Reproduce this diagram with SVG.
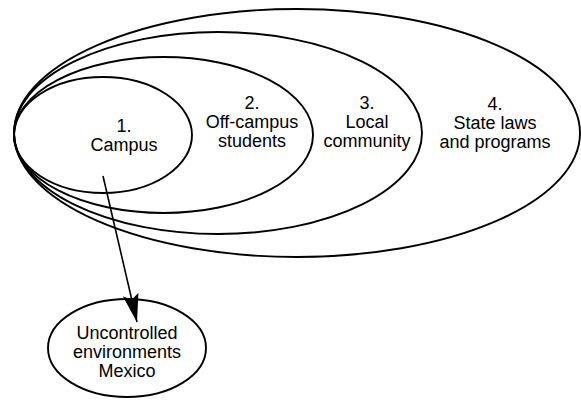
<svg xmlns="http://www.w3.org/2000/svg" width="581" height="400" viewBox="0 0 581 400">
<style>
.ring{fill:none;stroke:#000;stroke-width:1.9}
.lbl{font-family:"Liberation Sans",Arial,sans-serif;font-size:18px;fill:#000;text-anchor:middle}
.conn{stroke:#000;stroke-width:1.6;fill:none}
</style>
<defs>
<marker id="ah" markerUnits="userSpaceOnUse" viewBox="0 -8 28 16" refX="28" refY="0" markerWidth="28" markerHeight="16" orient="auto">
<path d="M0,-8 L28,0 L0,8 L5,0 z" fill="#000"/>
</marker>
</defs>
<rect width="581" height="400" fill="#fff"/>
<g id="state">
<ellipse class="ring" cx="297" cy="133" rx="283" ry="124"/>
<text class="lbl" x="495" y="110">4.</text>
<text class="lbl" x="495" y="129">State laws</text>
<text class="lbl" x="495" y="148">and programs</text>
</g>
<g id="local">
<ellipse class="ring" cx="218" cy="133" rx="204" ry="101"/>
<text class="lbl" x="367" y="109">3.</text>
<text class="lbl" x="367" y="128">Local</text>
<text class="lbl" x="367" y="147">community</text>
</g>
<g id="offcampus">
<ellipse class="ring" cx="163.5" cy="135" rx="149.5" ry="78"/>
<text class="lbl" x="252" y="109">2.</text>
<text class="lbl" x="252" y="128">Off-campus</text>
<text class="lbl" x="252" y="147">students</text>
</g>
<g id="campus">
<ellipse class="ring" cx="103" cy="135" rx="89" ry="58"/>
<text class="lbl" x="124" y="132">1.</text>
<text class="lbl" x="124" y="151">Campus</text>
</g>
<g id="mexico">
<ellipse class="ring" cx="127" cy="348" rx="79" ry="49"/>
<text class="lbl" x="127" y="339">Uncontrolled</text>
<text class="lbl" x="127" y="358">environments</text>
<text class="lbl" x="127" y="377">Mexico</text>
</g>
<g id="connectors">
<line class="conn" x1="103" y1="176" x2="137" y2="322" marker-end="url(#ah)"/>
</g>
</svg>
